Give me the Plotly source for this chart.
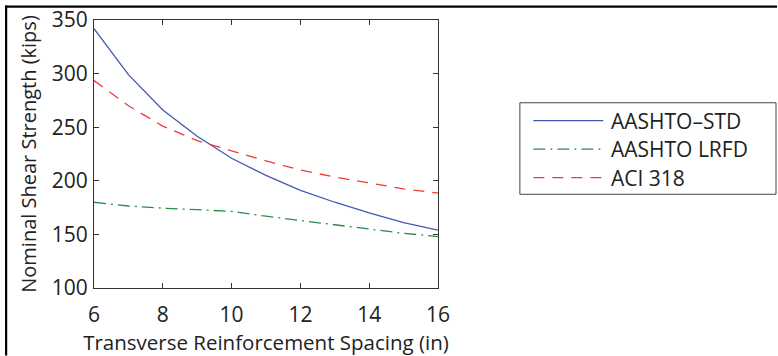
import plotly.graph_objects as go

spacing = [6, 7, 8, 9, 10, 11, 12, 13, 14, 15, 16]
aashto_std = [342, 299, 266, 241.5, 221, 205, 191, 180, 170, 161, 154]
aashto_lrfd = [180, 176.5, 174.5, 173, 171.5, 167, 163, 158.5, 154.5, 151, 148]
aci_318 = [293.5, 270, 251, 237.5, 228, 218.5, 210, 203.5, 198, 192.5, 188.5]

names = ["AASHTO\u2013STD", "AASHTO LRFD", "ACI 318"]
colors = ["#4458b0", "#2e8b4a", "#f03a3a"]
dashes = ["solid", "12px,5px,2px,5px", "11px,8px"]
series = [aashto_std, aashto_lrfd, aci_318]

W, H = 778, 356
L, R, T, B = 94, 438.5, 19.5, 288.3

FONT = "Open Sans"
fig = go.Figure()
for n, c, d, s in zip(names, colors, dashes, series):
    fig.add_trace(go.Scatter(x=spacing, y=s, mode="lines", name=n,
                             line=dict(color=c, width=1.3, dash=d),
                             showlegend=False))

def px_x(p):
    return (p - L) / (R - L)

def px_y(p):
    return (B - p) / (B - T)

shapes = []
# outer frame (top and left)
shapes.append(dict(type="line", xref="paper", yref="paper", x0=px_x(5), x1=px_x(778), y0=px_y(6), y1=px_y(6), line=dict(color="black", width=2.2)))
shapes.append(dict(type="line", xref="paper", yref="paper", x0=px_x(6), x1=px_x(6), y0=px_y(5), y1=px_y(356), line=dict(color="black", width=2.2)))
# legend box
shapes.append(dict(type="rect", xref="paper", yref="paper", x0=px_x(520.5), x1=px_x(777), y0=px_y(102.5), y1=px_y(194.3), line=dict(color="#444", width=1), fillcolor="white"))
annotations = []
rows = [120.5, 149, 177.5]
for n, c, d, yy in zip(names, colors, dashes, rows):
    shapes.append(dict(type="line", xref="paper", yref="paper", x0=px_x(534), x1=px_x(604), y0=px_y(yy), y1=px_y(yy), line=dict(color=c, width=1.3, dash=d)))
    annotations.append(dict(xref="paper", yref="paper", x=px_x(610), y=px_y(yy), text=n, showarrow=False, xanchor="left", yanchor="middle", font=dict(family=FONT, size=21, color="#222")))

axis_common = dict(showline=True, linecolor="#333", linewidth=1, mirror="ticks", ticks="inside", ticklen=5, tickcolor="#333", showgrid=False, zeroline=False, automargin=False, tickfont=dict(family=FONT, size=21, color="#222"))

fig.update_layout(
    width=W, height=H,
    margin=dict(l=L, r=W - R, t=T, b=H - B, pad=0, autoexpand=False),
    paper_bgcolor="white", plot_bgcolor="white",
    xaxis=dict(range=[6, 16], tickvals=[6, 8, 10, 12, 14, 16], ticklabelstandoff=8,
               title=dict(text="Transverse Reinforcement Spacing (in)", font=dict(family=FONT, size=20.5, color="#222"), standoff=14), **axis_common),
    yaxis=dict(range=[100, 350], tickvals=[100, 150, 200, 250, 300, 350], ticklabelstandoff=1,
               title=dict(text="Nominal Shear Strength (kips)", font=dict(family=FONT, size=20, color="#222"), standoff=9), **axis_common),
    shapes=shapes, annotations=annotations,
)
fig.write_html("out.html")
